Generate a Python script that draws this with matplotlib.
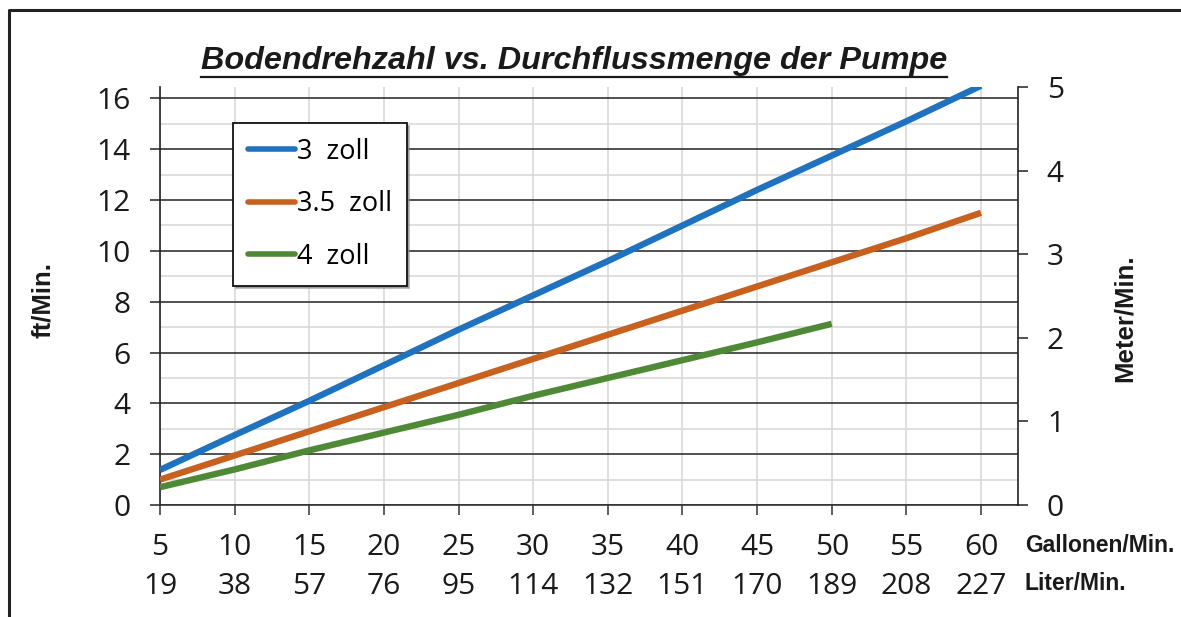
import matplotlib
matplotlib.use("Agg")
import matplotlib.pyplot as plt
from matplotlib.lines import Line2D
import numpy as np

# ---- data ----
gallons = [5, 10, 15, 20, 25, 30, 35, 40, 45, 50, 55, 60]
liters = [19, 38, 57, 76, 95, 114, 132, 151, 170, 189, 208, 227]
ft_3in = [1.38, 2.75, 4.1, 5.5, 6.9, 8.25, 9.6, 11.0, 12.4, 13.75, 15.1, 16.5]
ft_35in = [1.0, 1.95, 2.9, 3.85, 4.8, 5.75, 6.7, 7.65, 8.6, 9.55, 10.5, 11.5]
gallons_4in = [5, 10, 15, 20, 25, 30, 35, 40, 45, 50]
ft_4in = [0.7, 1.4, 2.15, 2.85, 3.55, 4.3, 5.0, 5.7, 6.4, 7.13]
series_labels = ["3  zoll", "3.5  zoll", "4  zoll"]
left_ticks = [0, 2, 4, 6, 8, 10, 12, 14, 16]
right_ticks = [0, 1, 2, 3, 4, 5]
title = "Bodendrehzahl vs. Durchflussmenge der Pumpe"

W, H = 1181, 617
fig = plt.figure(figsize=(W / 100, H / 100), dpi=100)
fig.patch.set_facecolor("white")

L, R, B, T = 160, 1017.7, 505, 87
ax = fig.add_axes([L / W, 1 - B / H, (R - L) / W, (B - T) / H])

tick_font = "Open Sans"
bold_font = "Liberation Sans"
tsize = 21.5

colors = ["#1f72c0", "#c8601e", "#4e8a36"]
lw = 4.6
ax.plot(gallons, ft_3in, color=colors[0], lw=lw, solid_capstyle="butt", label=series_labels[0], zorder=5)
ax.plot(gallons, ft_35in, color=colors[1], lw=lw, solid_capstyle="butt", label=series_labels[1], zorder=5)
ax.plot(gallons_4in, ft_4in, color=colors[2], lw=lw, solid_capstyle="butt", label=series_labels[2], zorder=5)

ax.set_xlim(5, 62.46)
ax.set_ylim(0, 16.45)

# grid
ax.set_yticks(left_ticks)
ax.set_yticks(np.arange(1, 17, 2), minor=True)
ax.set_xticks(gallons)
ax.grid(which="major", axis="y", color="#333333", lw=1.2, zorder=1)
ax.grid(which="minor", axis="y", color="#d9d9d9", lw=1.2, zorder=0.5)
ax.grid(which="major", axis="x", color="#d9d9d9", lw=1.2, zorder=0.5)
ax.tick_params(axis="y", which="minor", length=0)

for s in ["top", "right"]:
    ax.spines[s].set_visible(False)
ax.spines["left"].set_color("#222222")
ax.spines["left"].set_linewidth(1.2)
ax.spines["bottom"].set_color("#333333")
ax.spines["bottom"].set_linewidth(1.2)

ax.tick_params(axis="y", which="major", direction="out", length=7, width=1.1,
               color="#222222", pad=14, labelsize=tsize, labelcolor="#1a1a1a")
ax.tick_params(axis="x", which="major", direction="out", length=7, width=1.1,
               color="#333333", pad=13, labelsize=tsize, labelcolor="#1a1a1a")
ax.set_xticklabels([str(g) for g in gallons], fontfamily=tick_font)
ax.set_yticklabels([str(t) for t in left_ticks], fontfamily=tick_font)

# liters row
sec = ax.secondary_xaxis(0)
sec.set_xticks(gallons)
sec.set_xticklabels([str(v) for v in liters], fontfamily=tick_font)
sec.tick_params(axis="x", length=0, pad=48, labelsize=tsize, labelcolor="#1a1a1a")
sec.spines["bottom"].set_visible(False)

# right axis
ax2 = ax.twinx()
ax2.set_ylim(0, 5)
ax2.set_yticks(right_ticks)
ax2.set_yticklabels([str(t) for t in right_ticks], fontfamily=tick_font)
for s in ["top", "left", "bottom"]:
    ax2.spines[s].set_visible(False)
ax2.spines["right"].set_color("#222222")
ax2.spines["right"].set_linewidth(1.2)
ax2.tick_params(axis="y", direction="out", length=7, width=1.1, color="#222222",
                pad=14, labelsize=tsize, labelcolor="#1a1a1a")

# axis labels
fig.text(43 / W, 1 - 300 / H, "ft/Min.", rotation=90, ha="center", va="center",
         fontsize=18.5, fontweight="bold", fontfamily=bold_font, color="#1a1a1a")
fig.text(1125 / W, 1 - 318 / H, "Meter/Min.", rotation=90, ha="center", va="center",
         fontsize=18.5, fontweight="bold", fontfamily=bold_font, color="#1a1a1a")
fig.text(1025 / W, 1 - 545 / H, "Gallonen/Min.", ha="left", va="center",
         fontsize=16.5, fontweight="bold", fontfamily=bold_font, color="#1a1a1a")
fig.text(1025 / W, 1 - 584 / H, "Liter/Min.", ha="left", va="center",
         fontsize=16.5, fontweight="bold", fontfamily=bold_font, color="#1a1a1a")

# title with underline
tt = fig.text(574 / W, 1 - 61 / H, title, ha="center", va="center", fontsize=23.3,
              fontweight="bold", fontstyle="italic", fontfamily=bold_font, color="#1a1a1a")
fig.canvas.draw()
bb = tt.get_window_extent()
uy = (H - 76.5) / H
fig.add_artist(Line2D([bb.x0 / W, bb.x1 / W], [uy, uy], transform=fig.transFigure,
                      color="#1a1a1a", lw=1.6))

# legend
leg = ax.legend(loc="upper left", bbox_to_anchor=(233 / W, 1 - 123 / H),
                bbox_transform=fig.transFigure, borderaxespad=0,
                prop={"family": tick_font, "size": 19.5}, frameon=True, fancybox=False,
                shadow={"color": "#888888", "alpha": 0.6}, edgecolor="#111111",
                handlelength=1.75, handletextpad=0.05, labelspacing=0.9,
                borderpad=0.55)
leg.get_frame().set_linewidth(1.3)
leg.set_zorder(10)
for h in leg.get_lines():
    h.set_linewidth(4.0)
    h.set_solid_capstyle("round")
leg.remove()
ax2.add_artist(leg)

# outer border (left and top)
fig.add_artist(Line2D([8.5 / W, 8.5 / W, 1.0], [0, 1 - 10 / H, 1 - 10 / H],
                      transform=fig.transFigure, color="#222222", lw=2.2))

fig.savefig("out.png", dpi=100, facecolor="white")
